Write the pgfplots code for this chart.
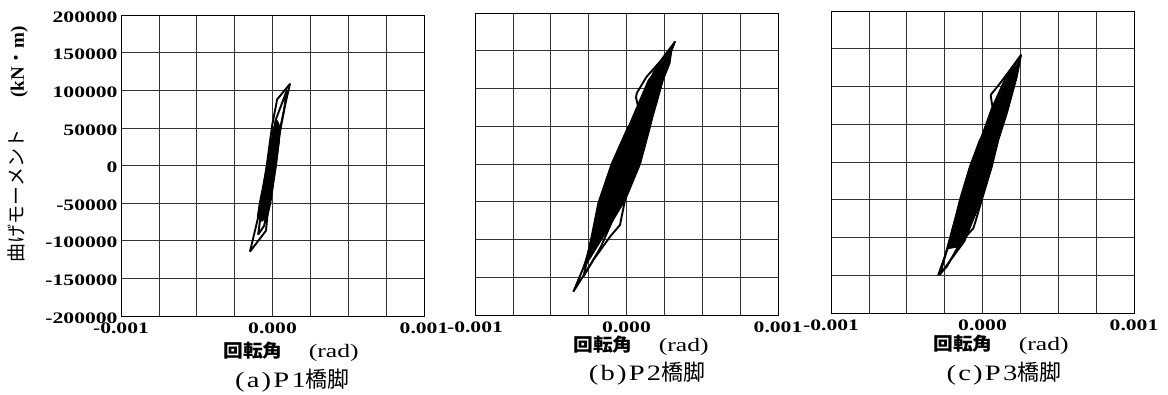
\documentclass[border=0pt]{standalone}
\usepackage{fontspec}
\usepackage{pgfplots}
\pgfplotsset{compat=1.18}
\setmainfont{Liberation Serif}
\newfontfamily\jp{Noto Sans CJK JP}
\newfontfamily\jpx[FakeStretch=1.1]{Noto Sans CJK JP}
\newfontfamily\tickfont[FakeStretch=1.35]{Liberation Serif}
\newfontfamily\subfont[FakeStretch=1.3,LetterSpace=10]{Liberation Serif}
\newfontfamily\jpsub{Noto Sans CJK JP}

\pgfplotsset{
  hyst/.style={
    scale only axis, width=303pt, height=301pt, anchor=south west,
    xmin=-0.001, xmax=0.001, ymin=-200000, ymax=200000,
    xtick={-0.001,0,0.001}, xticklabels={-0.001,0.000,0.001},
    minor xtick={-0.00075,-0.0005,-0.00025,0.00025,0.0005,0.00075},
    ytick={-200000,-150000,-100000,-50000,0,50000,100000,150000,200000},
    scaled ticks=false,
    grid=both,
    major grid style={black!80, line width=0.6pt},
    minor grid style={black!80, line width=0.6pt},
    major tick length=0pt, minor tick length=0pt,
    axis line style={black, line width=0.9pt},
    tick label style={font=\fontsize{16}{18}\selectfont\tickfont\bfseries},
    xticklabel style={yshift=-3pt},
    yticklabel style={yshift=-2pt},
  },
  loop/.style={black, line width=1.9pt, line join=round},
  band/.style={black, fill=black, line width=1pt, line join=round},
}

\begin{document}
\begin{tikzpicture}
\path[use as bounding box] (0pt,0pt) rectangle (1168pt,394pt);

% ---------------- (a) P1
\begin{axis}[hyst, at={(121pt,78pt)},
  yticklabels={-200000,-150000,-100000,-50000,0,50000,100000,150000,200000}]
\addplot[band] coordinates {
 (-0.000100,-68000) (-0.000087,-50300) (-0.000065,-28200) (-0.000038,0)
 (-0.000012,29500) (0.000010,51600) (0.000030,60000)
 (0.000050,51600) (0.000043,29500) (0.000023,0) (0.000005,-28200)
 (-0.000012,-50300) (-0.000034,-68000) (-0.000070,-74000) (-0.000100,-68000)};
\addplot[loop] coordinates {
 (-0.000149,-114600) (-0.000083,-59100) (-0.000038,0) (-0.000002,53800)
 (0.000031,88000) (0.000115,108300) (0.000086,82700) (0.000053,51600)
 (0.000023,0) (-0.000034,-68000) (-0.000043,-86600) (-0.000149,-114600)};
\addplot[loop] coordinates {
 (-0.000095,-92000) (-0.000072,-58000) (-0.000030,0) (0.000020,60000)
 (0.000095,100000) (0.000075,72000) (0.000035,30000) (-0.000015,-40000)
 (-0.000055,-80000) (-0.000095,-92000)};
\end{axis}

% ---------------- (b) P2
\begin{axis}[hyst, at={(475pt,79pt)}, width=303pt, height=302pt,
  yticklabels={}]
\addplot[band] coordinates {
 (-0.000290,-140000) (-0.000260,-120000) (-0.000230,-96300) (-0.000186,-52100)
 (-0.000098,0) (0.000012,49400) (0.000078,80400) (0.000144,111300)
 (0.000240,135000) (0.000300,152000)
 (0.000287,133400) (0.000243,111300) (0.000200,80400) (0.000155,49400)
 (0.000089,0) (-0.000021,-52100) (-0.000153,-96300) (-0.000240,-125000)
 (-0.000290,-140000)};
\addplot[loop] coordinates {
 (-0.000351,-169200) (-0.000263,-127200) (-0.000230,-96300) (-0.000186,-52100)
 (-0.000098,0) (0.000012,49400) (0.000095,60000) (0.000063,88000)
 (0.000068,94000) (0.000133,115700) (0.000221,135500) (0.000320,162000)
 (0.000265,133400) (0.000221,107000) (0.000155,49400) (0.000089,0)
 (-0.000010,-47700) (-0.000043,-80800) (-0.000109,-96300) (-0.000219,-127200)
 (-0.000351,-169200)};
\addplot[loop] coordinates {
 (-0.000285,-149300) (-0.000250,-120000) (-0.000150,-40000) (0.000050,60000)
 (0.000180,122000) (0.000287,151000) (0.000250,125000) (0.000120,40000)
 (-0.000060,-60000) (-0.000170,-110000) (-0.000285,-149300)};
\end{axis}

% ---------------- (c) P3
\begin{axis}[hyst, at={(831pt,81pt)}, width=303pt, height=302pt,
  yticklabels={}]
\addplot[band] coordinates {
 (-0.000235,-115000) (-0.000193,-85700) (-0.000149,-50300) (-0.000083,-6200)
 (-0.000017,29200) (0.000050,62000) (0.000116,91000) (0.000180,118000)
 (0.000240,132000)
 (0.000226,113000) (0.000160,64500) (0.000104,29200) (0.000061,-6200)
 (-0.000005,-50300) (-0.000083,-85700) (-0.000150,-112000) (-0.000235,-115000)};
\addplot[loop] coordinates {
 (-0.000292,-149700) (-0.000226,-112200) (-0.000149,-50300) (-0.000083,-6200)
 (-0.000017,29200) (0.000083,53400) (0.000060,79900) (0.000054,88800)
 (0.000116,104300) (0.000182,121900) (0.000254,141800) (0.000226,113000)
 (0.000160,64500) (0.000104,29200) (0.000061,-6200) (-0.000005,-50300)
 (-0.000050,-81300) (-0.000061,-87900) (-0.000149,-107700) (-0.000236,-138700)
 (-0.000292,-149700)};
\addplot[loop] coordinates {
 (-0.000280,-149000) (-0.000200,-90000) (-0.000100,-20000) (0.000060,70000)
 (0.000150,110000) (0.000250,140000) (0.000200,100000) (0.000080,20000)
 (-0.000030,-60000) (-0.000120,-105000) (-0.000280,-149000)};
\end{axis}

% ---------------- labels
\node[rotate=90, inner sep=0pt, font=\fontsize{19}{21}\selectfont] at (18pt,250pt)
  {{\jp 曲げモーメント}\hspace{32pt}{\bfseries (kN}{\jp ・}{\bfseries m)}};

\node[inner sep=0pt] at (291pt,42pt)
  {{\fontsize{18}{20}\selectfont\jpx\bfseries 回転角}\hspace{26pt}{\fontsize{19}{20}\selectfont\tickfont (rad)}};
\node[inner sep=0pt] at (641pt,48.5pt)
  {{\fontsize{18}{20}\selectfont\jpx\bfseries 回転角}\hspace{26pt}{\fontsize{19}{20}\selectfont\tickfont (rad)}};
\node[inner sep=0pt] at (1001pt,49.5pt)
  {{\fontsize{18}{20}\selectfont\jpx\bfseries 回転角}\hspace{26pt}{\fontsize{19}{20}\selectfont\tickfont (rad)}};

\node[inner sep=0pt] at (292.5pt,13pt)
  {\fontsize{22}{24}\selectfont{\subfont (a)P1}{\jpsub 橋脚}};
\node[inner sep=0pt] at (647pt,20pt)
  {\fontsize{22}{24}\selectfont{\subfont (b)P2}{\jpsub 橋脚}};
\node[inner sep=0pt] at (1004pt,20pt)
  {\fontsize{22}{24}\selectfont{\subfont (c)P3}{\jpsub 橋脚}};
\end{tikzpicture}
\end{document}
